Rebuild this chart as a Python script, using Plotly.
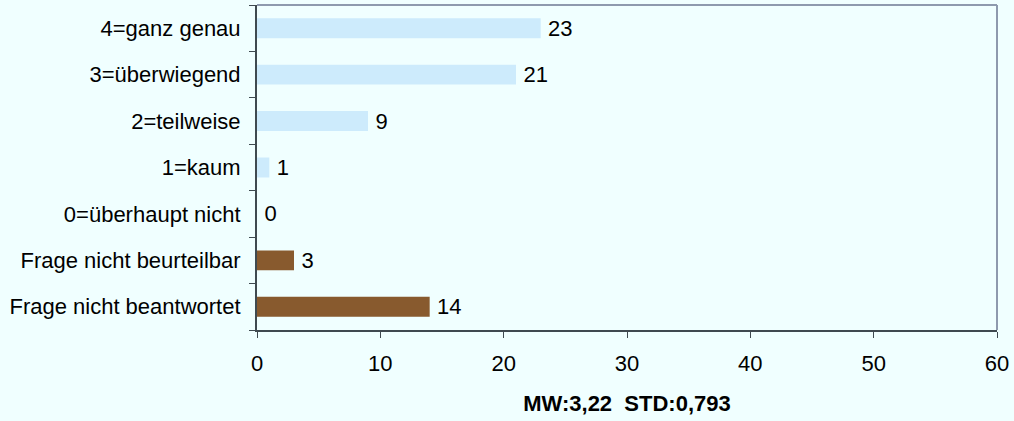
import plotly.graph_objects as go

categories = ["Frage nicht beantwortet", "Frage nicht beurteilbar", "0=überhaupt nicht",
              "1=kaum", "2=teilweise", "3=überwiegend", "4=ganz genau"]
values = [14, 3, 0, 1, 9, 21, 23]
bar_colors = ["#885A2E", "#885A2E", "#CDEBFC", "#CDEBFC", "#CDEBFC", "#CDEBFC", "#CDEBFC"]
x_ticks = [0, 10, 20, 30, 40, 50, 60]
axis_title = "MW:3,22&nbsp; STD:0,793"

FONT = "Liberation Sans, Arial, sans-serif"
BG = "#F0FFFF"

fig = go.Figure(go.Bar(
    y=categories, x=values, orientation="h",
    marker=dict(color=bar_colors, line=dict(width=0)),
    texttemplate="\u2009%{x}", textposition="outside", constraintext="none",
    textfont=dict(family=FONT, size=22, color="#000000"),
    cliponaxis=False,
))

fig.update_layout(
    width=1014, height=421,
    paper_bgcolor=BG, plot_bgcolor=BG,
    margin=dict(l=257, r=17, t=5, b=91),
    bargap=0.57,
    showlegend=False,
    font=dict(family=FONT, size=22, color="#000000"),
    xaxis=dict(
        range=[0, 60], tickvals=x_ticks, ticks="outside", ticklen=6, tickwidth=1,
        tickcolor="#3F4A50", showline=True, linecolor="#3F4A50", linewidth=2,
        showgrid=False, zeroline=False, ticklabelstandoff=7,
        tickfont=dict(family=FONT, size=22, color="#000000"),
        title=dict(text="<b>" + axis_title + "</b>",
                   font=dict(family=FONT, size=22, color="#000000"), standoff=20),
    ),
    yaxis=dict(
        type="category", ticks="outside", ticklen=6, tickwidth=1, tickson="boundaries",
        tickcolor="#3F4A50", showline=True, linecolor="#3F4A50", linewidth=2,
        showgrid=False, zeroline=False, ticklabelstandoff=10,
        tickfont=dict(family=FONT, size=22, color="#000000"),
    ),
    shapes=[
        dict(type="line", xref="paper", yref="paper", x0=0, x1=1, y0=1, y1=1,
             line=dict(color="#8E9AAE", width=2)),
        dict(type="line", xref="paper", yref="paper", x0=1, x1=1, y0=0, y1=1,
             line=dict(color="#8E9AAE", width=2)),
    ],
)

fig.write_html("out.html", config={"displayModeBar": False},
               post_script="document.body.style.margin='0';")
